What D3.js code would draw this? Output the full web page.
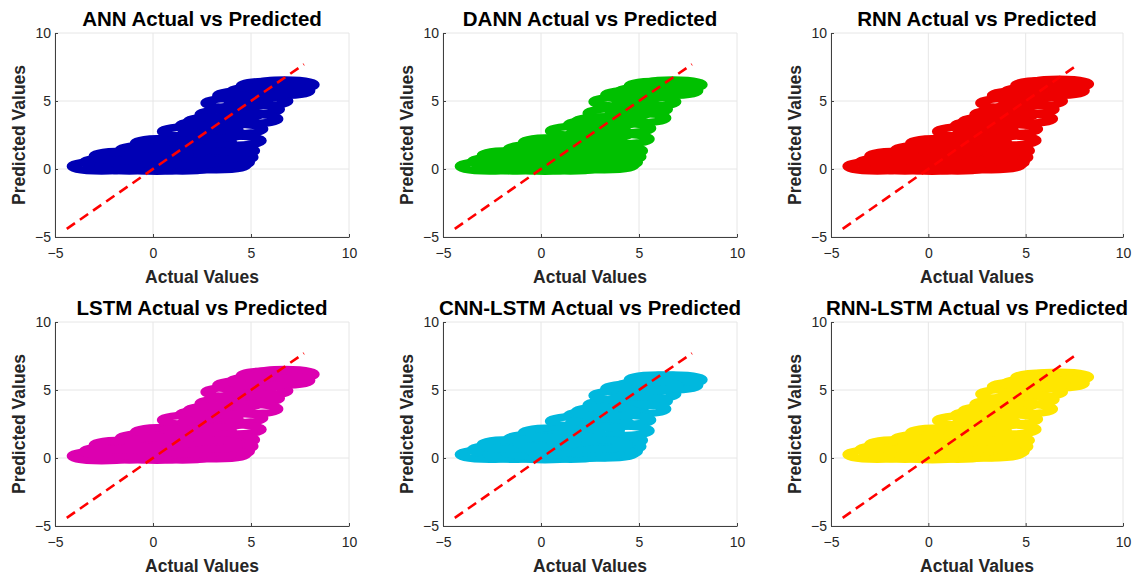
<!DOCTYPE html>
<html>
<head>
<meta charset="utf-8">
<script src="https://cdn.jsdelivr.net/npm/d3@7"></script>
<style>
  html, body { margin: 0; padding: 0; background: #fff; }
  svg { display: block; }
  text { font-family: "Liberation Sans", Arial, sans-serif; }
</style>
</head>
<body>
<svg id="chart" width="1132" height="575"></svg>
<script>
// ---------- data ----------
const models = ["ANN", "DANN", "RNN", "LSTM", "CNN-LSTM", "RNN-LSTM"];
const xTicks = [-5, 0, 5, 10];
const yTicks = [-5, 0, 5, 10];
const refLine = [-4.4, 7.7];

// shared actual values (marker centres)
const actual = [-2.62, -2.0, -1.2, -0.17, 0.6, 0.2, -0.8, 1.98, 2.9, 1.5,
                1.0, 3.9, 4.2, 4.8, 6.0, 6.72, 6.5, 5.38, 4.95, 4.87,
                4.1, 4.02, 3.68, 3.6, 3.42, 3.25, 2.5, 2.2, 2.5, 3.0,
                3.3, 5.5, 1.5, -0.4, 0.9, 2.0, 2.9, 1.2, -1.5, 0.3];

const predANN  = [0.2, 0.5, 0.2, 1.4, 1.9, 0.18, 0.8, 2.75, 3.2, 0.2,
                  1.0, 4.0, 4.85, 5.4, 6.1, 6.2, 5.75, 5.0, 4.4, 3.68,
                  2.94, 2.08, 1.35, 0.86, 0.49, 0.3, 0.3, 1.2, 2.0, 2.6,
                  3.5, 5.7, 1.8, 0.45, 0.55, 0.65, 1.0, 1.4, 0.95, 1.15];
const predDANN = [0.2, 0.55, 0.2, 1.45, 1.95, 0.18, 0.85, 2.8, 3.25, 0.2,
                  1.0, 4.1, 4.95, 5.45, 6.1, 6.2, 5.75, 4.95, 4.4, 3.75,
                  3.0, 2.2, 1.35, 0.9, 0.5, 0.3, 0.3, 1.2, 2.0, 2.6,
                  3.5, 5.7, 1.8, 0.45, 0.55, 0.65, 1.0, 1.4, 1.0, 1.15];
const predRNN  = [0.2, 0.5, 0.2, 1.4, 1.9, 0.18, 0.8, 2.75, 3.2, 0.2,
                  1.0, 4.0, 4.85, 5.4, 6.15, 6.25, 5.75, 5.0, 4.4, 3.7,
                  2.94, 2.1, 1.35, 0.86, 0.49, 0.3, 0.3, 1.2, 2.0, 2.6,
                  3.5, 5.7, 1.8, 0.45, 0.55, 0.65, 1.0, 1.4, 0.95, 1.15];
const predLSTM = [0.15, 0.5, 0.2, 1.45, 1.9, 0.18, 0.8, 2.8, 3.2, 0.2,
                  1.0, 4.0, 4.85, 5.35, 6.05, 6.15, 5.7, 4.95, 4.4, 3.6,
                  2.94, 2.1, 1.35, 0.86, 0.49, 0.3, 0.3, 1.2, 2.0, 2.6,
                  3.5, 5.65, 1.8, 0.45, 0.55, 0.65, 1.0, 1.4, 0.95, 1.15];
const predCNNLSTM = [0.25, 0.6, 0.25, 1.4, 1.85, 0.22, 0.85, 2.7, 3.1, 0.25,
                  1.0, 3.9, 4.6, 5.1, 5.75, 5.75, 5.35, 4.7, 4.2, 3.6,
                  2.8, 2.0, 1.3, 0.85, 0.5, 0.35, 0.35, 1.2, 2.0, 2.55,
                  3.4, 5.3, 1.8, 0.5, 0.6, 0.7, 1.0, 1.4, 1.0, 1.15];
const predRNNLSTM = [0.25, 0.6, 0.25, 1.4, 1.85, 0.22, 0.85, 2.75, 3.15, 0.25,
                  1.0, 3.95, 4.7, 5.25, 5.9, 5.95, 5.5, 4.85, 4.3, 3.6,
                  2.85, 2.1, 1.3, 0.85, 0.5, 0.35, 0.35, 1.2, 2.0, 2.6,
                  3.45, 5.5, 1.8, 0.5, 0.6, 0.7, 1.0, 1.4, 1.0, 1.15];
const predicted = [predANN, predDANN, predRNN, predLSTM, predCNNLSTM, predRNNLSTM];

// ---------- styles / layout ----------
const colors = ["#0000b4", "#00c000", "#ee0000", "#dc00b0", "#00b8de", "#ffe600"];
const lefts = [55, 443, 831];
const widths = [294, 294, 292];
const tops = [33, 322];
const ph = 204;
const ringWidth = 7.5;
const markerRx = 35 - ringWidth / 2, markerRy = 8.5 - ringWidth / 2;
const font = '"Liberation Sans", Arial, sans-serif';

const svg = d3.select("#chart");

models.forEach((name, i) => {
  const col = i % 3, row = Math.floor(i / 3);
  const pw = widths[col];
  const g = svg.append("g").attr("transform", `translate(${lefts[col]},${tops[row]})`);
  const x = d3.scaleLinear().domain([-5, 10]).range([0, pw]);
  const y = d3.scaleLinear().domain([-5, 10]).range([ph, 0]);

  // grid
  g.append("g").selectAll("line").data(xTicks).join("line")
    .attr("x1", d => x(d)).attr("x2", d => x(d)).attr("y1", 0).attr("y2", ph)
    .attr("stroke", "#e6e6e6").attr("stroke-width", 1);
  g.append("g").selectAll("line").data(yTicks).join("line")
    .attr("y1", d => y(d)).attr("y2", d => y(d)).attr("x1", 0).attr("x2", pw)
    .attr("stroke", "#e6e6e6").attr("stroke-width", 1);

  // markers (thick open rings, as in the original)
  const pts = actual.map((a, k) => ({ a, p: predicted[i][k] }));
  g.append("g").selectAll("ellipse").data(pts).join("ellipse")
    .attr("cx", d => x(d.a)).attr("cy", d => y(d.p))
    .attr("rx", markerRx).attr("ry", markerRy)
    .attr("fill", "none")
    .attr("stroke", colors[i]).attr("stroke-width", ringWidth);

  // reference line
  g.append("line")
    .attr("x1", x(refLine[0])).attr("y1", y(refLine[0]))
    .attr("x2", x(refLine[1])).attr("y2", y(refLine[1]))
    .attr("stroke", "#ff0000").attr("stroke-width", 2.6)
    .attr("stroke-dasharray", "10,6");

  // axes
  const ax = g.append("g").attr("transform", `translate(0,${ph})`)
    .call(d3.axisBottom(x).tickValues(xTicks).tickSizeInner(-3).tickSizeOuter(0).tickPadding(11));
  const ay = g.append("g")
    .call(d3.axisLeft(y).tickValues(yTicks).tickSizeInner(-3).tickSizeOuter(0).tickPadding(4));
  [ax, ay].forEach(a => {
    a.select(".domain").attr("stroke", "#404040");
    a.selectAll(".tick line").attr("stroke", "#404040");
    a.selectAll(".tick text").attr("fill", "#262626").style("font-size", "14px").style("font-family", font);
  });

  // title
  g.append("text").attr("x", pw / 2).attr("y", -7)
    .attr("text-anchor", "middle").attr("font-weight", "bold")
    .style("font-size", "20.5px").attr("fill", "#000")
    .text(`${name} Actual vs Predicted`);
  // x label
  g.append("text").attr("x", pw / 2).attr("y", ph + 46)
    .attr("text-anchor", "middle").attr("font-weight", "bold")
    .style("font-size", "17.5px").attr("fill", "#262626")
    .text("Actual Values");
  // y label
  g.append("text").attr("transform", `translate(-30,${ph / 2}) rotate(-90)`)
    .attr("text-anchor", "middle").attr("font-weight", "bold")
    .style("font-size", "17.5px").attr("fill", "#262626")
    .text("Predicted Values");
});
</script>
</body>
</html>
